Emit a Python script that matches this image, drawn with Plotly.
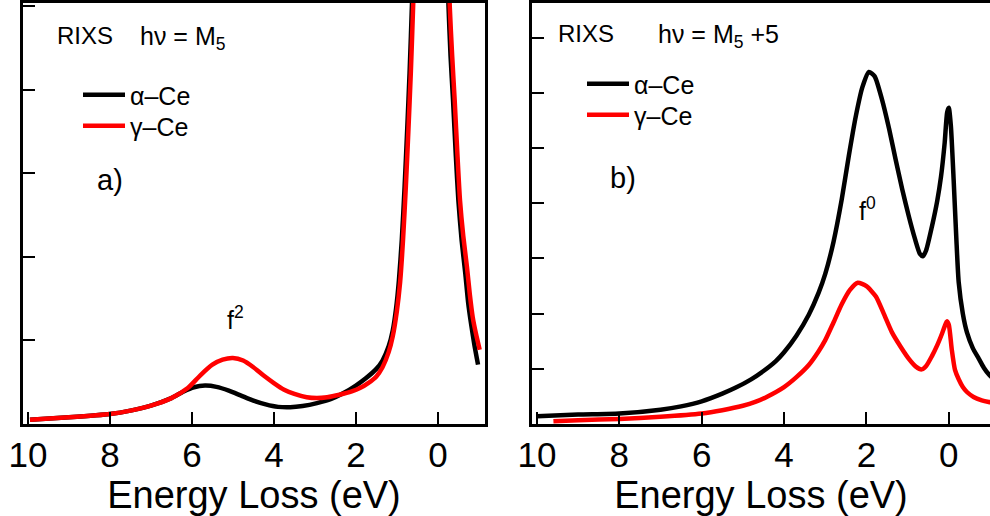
import plotly.graph_objects as go
from plotly.subplots import make_subplots

# ---- data ----
# panel a) hv = M5
a_alpha_x = [9.95, 9.0, 8.0, 7.5, 7.0, 6.5, 6.2, 5.95, 5.68, 5.4, 5.1, 4.8, 4.5, 4.2, 3.9, 3.6, 3.3, 2.95, 2.6, 2.3, 2.0, 1.75, 1.5, 1.35, 1.2, 1.1, 1.02, 0.95, 0.88, 0.81, 0.75, 0.69, 0.63, 0.53, 0.43, 0.33, 0.23, 0.18, 0.13, 0.03, -0.07, -0.17, -0.26, -0.31, -0.37, -0.44, -0.50, -0.58, -0.67, -0.74, -0.81, -0.89, -0.98]
a_alpha_y = [0.05, 0.08, 0.12, 0.16, 0.22, 0.31, 0.39, 0.44, 0.46, 0.445, 0.40, 0.34, 0.28, 0.235, 0.205, 0.20, 0.215, 0.25, 0.30, 0.37, 0.46, 0.55, 0.66, 0.76, 0.93, 1.12, 1.38, 1.72, 2.2, 2.85, 3.5, 4.2, 5.05, 6.9, 10.0, 15.0, 22.0, 24.0, 22.0, 14.0, 9.5, 6.6, 5.0, 4.4, 3.88, 3.2, 2.68, 2.2, 1.8, 1.45, 1.2, 0.95, 0.71]
a_gamma_x = [9.95, 9.0, 8.0, 7.5, 7.0, 6.5, 6.1, 5.8, 5.5, 5.25, 5.0, 4.75, 4.5, 4.25, 4.0, 3.75, 3.5, 3.2, 2.95, 2.7, 2.4, 2.1, 1.9, 1.7, 1.5, 1.35, 1.2, 1.1, 1.0, 0.92, 0.85, 0.78, 0.72, 0.66, 0.6, 0.5, 0.4, 0.3, 0.2, 0.15, 0.1, 0.0, -0.1, -0.2, -0.29, -0.35, -0.41, -0.48, -0.54, -0.62, -0.71, -0.78, -0.85, -0.93, -1.02]
a_gamma_y = [0.05, 0.08, 0.12, 0.16, 0.22, 0.31, 0.43, 0.58, 0.71, 0.77, 0.79, 0.76, 0.68, 0.58, 0.49, 0.41, 0.36, 0.32, 0.31, 0.32, 0.35, 0.39, 0.43, 0.49, 0.57, 0.68, 0.86, 1.05, 1.35, 1.7, 2.2, 2.85, 3.5, 4.2, 5.05, 6.9, 10.0, 15.0, 22.0, 24.0, 22.0, 14.0, 9.5, 6.6, 5.0, 4.4, 3.88, 3.2, 2.68, 2.25, 1.88, 1.55, 1.28, 1.08, 0.89]

# panel b) hv = M5 + 5
b_alpha_x = [10.0, 9.0, 8.0, 7.0, 6.5, 6.0, 5.5, 5.17, 4.8, 4.5, 4.2, 4.0, 3.7, 3.4, 3.16, 3.0, 2.8, 2.6, 2.43, 2.26, 2.1, 1.94, 1.8, 1.63, 1.45, 1.29, 1.13, 0.97, 0.82, 0.7, 0.63, 0.55, 0.41, 0.28, 0.19, 0.1, 0.04, 0.0, -0.05, -0.12, -0.18, -0.24, -0.34, -0.44, -0.58, -0.73, -0.85, -0.97, -1.05]
b_alpha_y = [0.14, 0.17, 0.19, 0.26, 0.32, 0.41, 0.55, 0.66, 0.81, 0.96, 1.14, 1.3, 1.6, 1.98, 2.38, 2.72, 3.3, 4.07, 4.85, 5.57, 6.1, 6.38, 6.3, 5.9, 5.35, 4.79, 4.25, 3.76, 3.35, 3.08, 3.04, 3.15, 3.58, 4.05, 4.48, 5.1, 5.65, 5.73, 5.4, 4.38, 3.4, 2.57, 2.0, 1.66, 1.38, 1.18, 1.02, 0.9, 0.84]
b_gamma_x = [9.6, 9.0, 8.0, 7.0, 6.0, 5.5, 5.0, 4.7, 4.4, 4.0, 3.7, 3.4, 3.16, 3.0, 2.8, 2.6, 2.4, 2.21, 2.0, 1.77, 1.58, 1.38, 1.17, 0.97, 0.8, 0.66, 0.55, 0.41, 0.28, 0.19, 0.1, 0.05, 0.0, -0.07, -0.15, -0.24, -0.34, -0.44, -0.6, -0.8, -0.97, -1.05]
b_gamma_y = [0.05, 0.07, 0.09, 0.13, 0.19, 0.25, 0.33, 0.40, 0.50, 0.67, 0.85, 1.07, 1.32, 1.52, 1.84, 2.17, 2.43, 2.56, 2.5, 2.31, 2.0, 1.66, 1.4, 1.18, 1.04, 0.99, 1.05, 1.23, 1.43, 1.59, 1.77, 1.86, 1.8, 1.36, 0.98, 0.81, 0.67, 0.58, 0.49, 0.43, 0.40, 0.39]

series_names = ["α–Ce", "γ–Ce"]
series_colors = ["#000000", "#ff0000"]
x_ticks = [0, 2, 4, 6, 8, 10]
x_range_a = [10.12, -1.15]
x_range_b = [10.12, -1.0]
y_range_a = [0, 5.04]
y_range_b = [0, 7.63]

FONT = "Liberation Sans, Arial, sans-serif"
W, H = 990, 516
ML, MR, MT, MB = 0, 0, 3, 92
PW, PH = W - ML - MR, H - MT - MB


def px2paper(px, py):
    return (px - ML) / PW, 1 - (py - MT) / PH


fig = make_subplots(rows=1, cols=2, horizontal_spacing=0.05)

panel_data = [
    (1, ["legend", "legend2"], [(a_alpha_x, a_alpha_y), (a_gamma_x, a_gamma_y)]),
    (2, ["legend3", "legend4"], [(b_alpha_x, b_alpha_y), (b_gamma_x, b_gamma_y)]),
]
for col, legs, series in panel_data:
    for (xs, ys), name, color, leg in zip(series, series_names, series_colors, legs):
        fig.add_trace(
            go.Scatter(x=xs, y=ys, mode="lines", name=name, legend=leg,
                       line=dict(color=color, width=4.5, shape="spline", smoothing=0.6),
                       showlegend=True),
            row=1, col=col)

axis_common = dict(showline=True, linecolor="black", linewidth=3, ticks="inside",
                   tickcolor="black", tickwidth=2, ticklen=12, showgrid=False,
                   zeroline=False, automargin=False)

fig.update_xaxes(**axis_common, tickvals=x_ticks, mirror=True,
                 tickfont=dict(family=FONT, size=35, color="black"),
                 title=dict(text="Energy Loss (eV)", font=dict(family=FONT, size=38, color="black"), standoff=0),
                 ticklabelstandoff=-2)
fig.update_xaxes(range=x_range_a, domain=[23 / W, 485 / W], row=1, col=1)
fig.update_xaxes(range=x_range_b, domain=[532 / W, 1.0], row=1, col=2)
fig.update_yaxes(**axis_common, showticklabels=False)
fig.update_yaxes(range=y_range_a, tickvals=[0, 1, 2, 3, 4, 5], mirror=True, row=1, col=1)
fig.update_yaxes(range=y_range_b, tickvals=[0, 1, 2, 3, 4, 5, 6, 7], mirror=False, row=1, col=2)


def ann(text, px, py, size=24, xanchor="left"):
    xp, yp = px2paper(px, py)
    fig.add_annotation(text=text, x=xp, y=yp, xref="paper", yref="paper",
                       xanchor=xanchor, yanchor="middle", showarrow=False,
                       font=dict(family=FONT, size=size, color="black"))


ann("RIXS", 55, 35)
ann("hν = M<sub>5</sub>", 138, 38, size=25)
ann("a)", 95, 180, size=29)
ann("f<sup>2</sup>", 225, 318, size=25)
ann("RIXS", 556, 33)
ann("hν = M<sub>5</sub> +5", 656, 36, size=25)
ann("b)", 608, 178, size=29)
ann("f<sup>0</sup>", 857, 209, size=25)

legend_style = dict(font=dict(family=FONT, size=25, color="black"), bgcolor="rgba(0,0,0,0)",
                    xanchor="left", yanchor="middle", itemwidth=42, tracegroupgap=0,
                    borderwidth=0)
leg_pos = {"legend": (78, 95), "legend2": (78, 126), "legend3": (582, 84), "legend4": (582, 115)}
legends = {}
for key, (px, py) in leg_pos.items():
    xp, yp = px2paper(px, py)
    legends[key] = dict(**legend_style, x=xp, y=yp)

fig.update_layout(
    width=W, height=H,
    margin=dict(l=ML, r=MR, t=MT, b=MB, autoexpand=False),
    paper_bgcolor="white", plot_bgcolor="white",
    font=dict(family=FONT, color="black"),
    **legends,
)

fig.write_html("out.html", config={"displayModeBar": False},
               post_script="document.body.style.margin='0px';")
